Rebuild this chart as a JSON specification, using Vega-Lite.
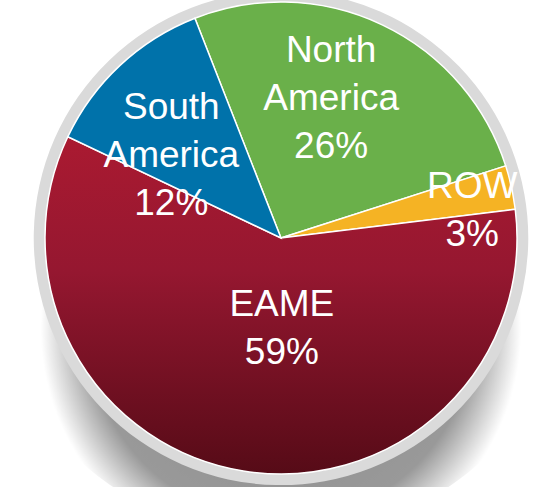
{
  "$schema": "https://vega.github.io/schema/vega-lite/v6.json",
  "width": 548,
  "height": 487,
  "autosize": {"type": "fit", "contains": "padding"},
  "padding": {"left": 14, "right": 0, "top": 0, "bottom": 11},
  "background": "white",
  "view": {"stroke": null},
  "data": {"values": [
    {"region": "North America", "label": "North\nAmerica\n26%", "value": 26, "idx": 1},
    {"region": "ROW", "label": "ROW\n3%", "value": 3, "idx": 2},
    {"region": "EAME", "label": "EAME\n59%", "value": 59, "idx": 3},
    {"region": "South America", "label": "South\nAmerica\n12%", "value": 12, "idx": 4}
  ]},
  "encoding": {
    "theta": {"field": "value", "type": "quantitative", "stack": true, "scale": {"range": [-0.3735, 5.9097]}},
    "order": {"field": "idx", "type": "quantitative"}
  },
  "layer": [
    {
      "data": {"values": [{"value": 100, "idx": 1}]},
      "mark": {"type": "arc", "radius": 300, "fill": {"gradient": "radial", "x1": 0.5, "y1": 0.65, "r1": 0, "x2": 0.5, "y2": 0.65, "r2": 0.4, "stops": [{"offset": 0, "color": "#888888"}, {"offset": 0.8, "color": "#999999"}, {"offset": 0.9, "color": "#cccccc"}, {"offset": 1, "color": "#ffffff"}]}}
    },
    {
      "data": {"values": [{"value": 100, "idx": 1}]},
      "mark": {"type": "arc", "radius": 247, "fill": "#DADADA"}
    },
    {
      "mark": {"type": "arc", "radius": 236, "stroke": "white", "strokeWidth": 1.5},
      "encoding": {
        "fill": {
          "condition": {"test": "datum.region === 'EAME'", "value": {"gradient": "linear", "x1": 0, "y1": 0, "x2": 0, "y2": 1, "stops": [{"offset": 0, "color": "#AA1A31"}, {"offset": 0.4, "color": "#951730"}, {"offset": 1, "color": "#560B17"}]}},
          "field": "region", "type": "nominal",
          "scale": {"domain": ["North America", "ROW", "EAME", "South America"], "range": ["#6AB04A", "#F5B324", "#A3192F", "#0072AA"]},
          "legend": null
        }
      }
    },
    {
      "mark": {"type": "text", "radius": 194, "thetaOffset": -0.182, "font": "Liberation Sans", "fontSize": 37, "lineHeight": 48, "lineBreak": "\n", "fill": "white", "align": "center", "baseline": "middle"},
      "encoding": {"text": {"condition": {"test": "datum.region === 'North America'", "field": "label"}, "value": ""}}
    },
    {
      "mark": {"type": "text", "radius": 170, "thetaOffset": 0.049, "font": "Liberation Sans", "fontSize": 37, "lineHeight": 48, "lineBreak": "\n", "fill": "white", "align": "center", "baseline": "middle"},
      "encoding": {"text": {"condition": {"test": "datum.region === 'South America'", "field": "label"}, "value": ""}}
    },
    {
      "mark": {"type": "text", "radius": 198, "thetaOffset": -0.045, "font": "Liberation Sans", "fontSize": 37, "lineHeight": 48, "lineBreak": "\n", "fill": "white", "align": "center", "baseline": "middle"},
      "encoding": {"text": {"condition": {"test": "datum.region === 'ROW'", "field": "label"}, "value": ""}}
    },
    {
      "mark": {"type": "text", "radius": 67, "thetaOffset": -0.173, "font": "Liberation Sans", "fontSize": 37, "lineHeight": 48, "lineBreak": "\n", "fill": "white", "align": "center", "baseline": "middle"},
      "encoding": {"text": {"condition": {"test": "datum.region === 'EAME'", "field": "label"}, "value": ""}}
    }
  ]
}
